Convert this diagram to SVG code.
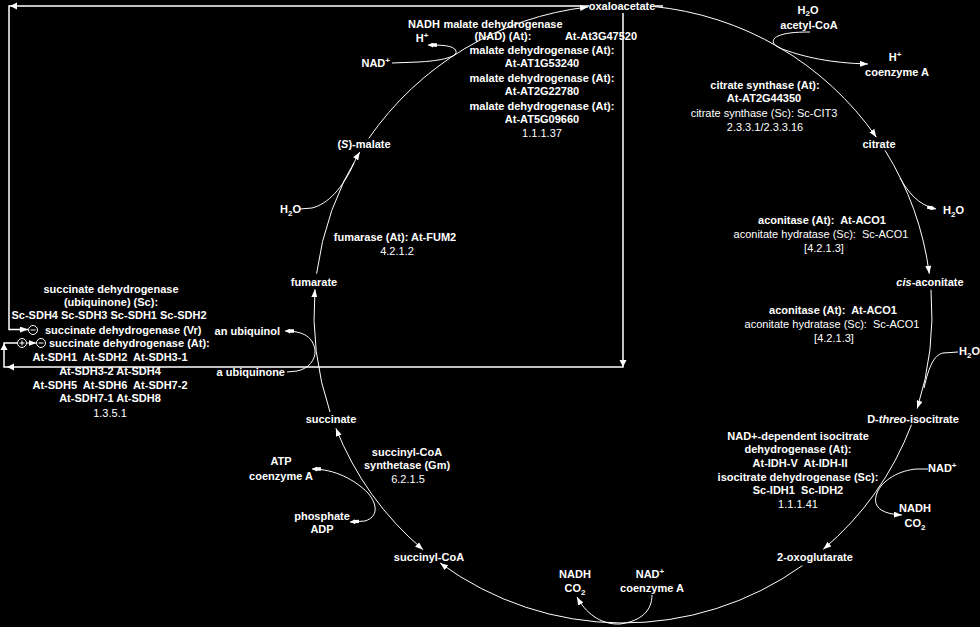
<svg xmlns="http://www.w3.org/2000/svg" width="980" height="627" viewBox="0 0 980 627">
<defs>
<style>
text{font-family:"Liberation Sans",Arial,sans-serif;font-size:11px;fill:#fff}
.b{font-weight:bold}
.r{font-weight:normal}
.m{text-anchor:middle}
.e{text-anchor:end}
.ln{fill:none;stroke:#fff;stroke-width:1}
.rg{fill:none;stroke:#fff;stroke-width:1.5}
.ah{fill:#fff}
.sym{fill:none;stroke:#fff;stroke-width:1}
</style>
<marker id="a" viewBox="0 0 8 6" refX="8" refY="3" markerWidth="8" markerHeight="6" markerUnits="userSpaceOnUse" orient="auto-start-reverse"><path d="M0,0 L8,3 L0,6 z" fill="#fff"/></marker>
<marker id="s" viewBox="0 0 9 5" refX="9" refY="2.5" markerWidth="9" markerHeight="5" markerUnits="userSpaceOnUse" orient="auto-start-reverse"><path d="M0,0.8 L4,0.8 L4,0 L9,2.5 L4,5 L4,4.2 L0,4.2 z" fill="#fff"/></marker>
</defs>
<rect width="980" height="627" fill="#000"/>

<g id="connectors">
<path class="ln" d="M368.7 138.5 A309 309 0 0 1 588 7" marker-end="url(#a)"/>
<path class="ln" d="M652.6 6.4 A309 309 0 0 1 876.4 137.2" marker-end="url(#a)"/>
<path class="ln" d="M885 150.3 A309 309 0 0 1 929.3 273.7" marker-end="url(#a)"/>
<path class="ln" d="M931 289.8 A309 309 0 0 1 917.2 408.5" marker-end="url(#a)"/>
<path class="ln" d="M911.5 424.7 A309 309 0 0 1 823.3 549.3" marker-end="url(#a)"/>
<path class="ln" d="M802.4 565.6 A309 309 0 0 1 440.1 563" marker-end="url(#a)"/>
<path class="ln" d="M423.1 549.7 A309 309 0 0 1 335.9 428.2" marker-start="url(#a)" marker-end="url(#a)"/>
<path class="ln" d="M330 412 A309 309 0 0 1 315 289.2" marker-end="url(#a)"/>
<path class="ln" d="M316.6 273.7 A309 309 0 0 1 359.8 152.1" marker-end="url(#a)"/>
<path class="ln" d="M392 63 L418 62 C440 61 458 57 456 51 C454 45 440 45 428 45" marker-end="url(#s)"/>
<path class="ln" d="M810 32 C795 32 785 33 778 36 C770 40 772 46 785 50 C805 57 830 63 868 64" marker-end="url(#a)"/>
<path class="ln" d="M900 178 C908 192 918 205 936 209" marker-end="url(#s)"/>
<path class="ln" d="M958 352 L943 353 C934 355 929 366 924 388"/>
<path class="ln" d="M928 469 L917 469 C900 470 882 480 877 493 C872 506 880 514 902 515" marker-end="url(#a)"/>
<path class="ln" d="M652 595 C652 610 642 621 620 624 C600 625 585 612 577 597" marker-end="url(#a)"/>
<path class="ln" d="M312 469 C335 469 355 480 368 493 C378 505 378 517 365 521 L350 522" marker-start="url(#s)" marker-end="url(#s)"/>
<path class="ln" d="M287 372 L297 371 C308 369 316 360 315 350 C313 338 305 331 285 331" marker-end="url(#s)"/>
<path class="ln" d="M300 209 L312 208 C328 204 343 188 354 163"/>
<path class="rg" d="M663 6 H9 V329.5 H28" marker-end="url(#a)"/>
<polygon class="ah" points="10,6 17,2.5 17,9.5"/>
<path class="rg" d="M623 6 V367 H4 V343 H17.5"/>
<polygon class="ah" points="623,367 619.5,360 626.5,360"/>
<polygon class="ah" points="7,367 14,363.5 14,370.5"/>
<polygon class="ah" points="4,343.5 0.5,350 7.5,350"/>
<path class="ln" d="M26.5 343 H36.5" marker-end="url(#a)"/>
</g>

<g id="n-oxaloacetate"><rect x="589" y="0" width="66" height="13" fill="#000"/><text class="b m" x="622" y="10">oxaloacetate</text></g>
<g id="n-citrate"><text class="b m" x="879" y="148">citrate</text></g>
<g id="n-cis-aconitate"><text class="b m" x="930" y="286"><tspan font-style="italic">cis</tspan>-aconitate</text></g>
<g id="n-isocitrate"><text class="b m" x="913" y="423">D-<tspan font-style="italic">threo</tspan>-isocitrate</text></g>
<g id="n-2-oxoglutarate"><text class="b m" x="815" y="561">2-oxoglutarate</text></g>
<g id="n-succinyl-CoA"><text class="b m" x="429" y="561">succinyl-CoA</text></g>
<g id="n-succinate"><text class="b m" x="331" y="423">succinate</text></g>
<g id="n-fumarate"><text class="b m" x="314" y="286">fumarate</text></g>
<g id="n-malate"><text class="b m" x="364" y="148">(<tspan font-style="italic">S</tspan>)-malate</text></g>

<g id="n-mdh-side">
<text class="b m" x="424" y="28">NADH</text>
<text class="b m" x="422" y="42">H<tspan font-size="8" dy="-4">+</tspan></text>
<text class="b e" x="390" y="67">NAD<tspan font-size="8" dy="-4">+</tspan></text>
</g>
<g id="n-cs-side">
<text class="b m" x="808" y="14">H<tspan font-size="8" dy="2">2</tspan><tspan dy="-2">O</tspan></text>
<text class="b m" x="809" y="29">acetyl-CoA</text>
<text class="b m" x="895" y="61">H<tspan font-size="8" dy="-4">+</tspan></text>
<text class="b m" x="897" y="76">coenzyme A</text>
</g>
<g id="n-aco-side1"><text class="b" x="943" y="214">H<tspan font-size="8" dy="3">2</tspan><tspan dy="-3">O</tspan></text></g>
<g id="n-aco-side2"><text class="b" x="959" y="355">H<tspan font-size="8" dy="3">2</tspan><tspan dy="-3">O</tspan></text></g>
<g id="n-idh-side">
<text class="b" x="928" y="472">NAD<tspan font-size="8" dy="-4">+</tspan></text>
<text class="b m" x="915" y="512">NADH</text>
<text class="b m" x="915" y="527">CO<tspan font-size="8" dy="3">2</tspan></text>
</g>
<g id="n-ogdh-side">
<text class="b m" x="575" y="578">NADH</text>
<text class="b m" x="575" y="592">CO<tspan font-size="8" dy="3">2</tspan></text>
<text class="b m" x="650" y="578">NAD<tspan font-size="8" dy="-4">+</tspan></text>
<text class="b m" x="652" y="592">coenzyme A</text>
</g>
<g id="n-scs-side">
<text class="b m" x="281" y="465">ATP</text>
<text class="b m" x="281" y="480">coenzyme A</text>
<text class="b m" x="322" y="520">phosphate</text>
<text class="b m" x="322" y="533">ADP</text>
</g>
<g id="n-sdh-side">
<text class="b e" x="280" y="335">an ubiquinol</text>
<text class="b e" x="285" y="376">a ubiquinone</text>
</g>
<g id="n-fum-side"><text class="b" x="280" y="213">H<tspan font-size="8" dy="3">2</tspan><tspan dy="-3">O</tspan></text></g>

<g id="e-mdh">
<text class="b m" x="503" y="28">malate dehydrogenase</text>
<text class="b m" x="503" y="40">(NAD) (At):</text>
<text class="b m" x="601" y="40">At-At3G47520</text>
<text class="b m" x="542" y="54">malate dehydrogenase (At):</text>
<text class="b m" x="542" y="67">At-AT1G53240</text>
<text class="b m" x="542" y="82">malate dehydrogenase (At):</text>
<text class="b m" x="542" y="95">At-AT2G22780</text>
<text class="b m" x="542" y="110">malate dehydrogenase (At):</text>
<text class="b m" x="542" y="123">At-AT5G09660</text>
<text class="r m" x="542" y="137">1.1.1.37</text>
</g>
<g id="e-cs">
<text class="b m" x="765" y="89">citrate synthase (At):</text>
<text class="b m" x="764" y="102">At-AT2G44350</text>
<text class="r m" x="764" y="117">citrate synthase (Sc): Sc-CIT3</text>
<text class="r m" x="765" y="131">2.3.3.1/2.3.3.16</text>
</g>
<g id="e-aco1">
<text class="b m" x="822" y="224">aconitase (At):&#160; At-ACO1</text>
<text class="r m" x="821" y="238">aconitate hydratase (Sc):&#160; Sc-ACO1</text>
<text class="r m" x="824" y="252">[4.2.1.3]</text>
</g>
<g id="e-aco2">
<text class="b m" x="833" y="314">aconitase (At):&#160; At-ACO1</text>
<text class="r m" x="832" y="328">aconitate hydratase (Sc):&#160; Sc-ACO1</text>
<text class="r m" x="834" y="342">[4.2.1.3]</text>
</g>
<g id="e-idh">
<text class="b m" x="798" y="440">NAD+-dependent isocitrate</text>
<text class="b m" x="798" y="453">dehydrogenase (At):</text>
<text class="b m" x="800" y="467">At-IDH-V&#160; At-IDH-II</text>
<text class="b m" x="798" y="481">isocitrate dehydrogenase (Sc):</text>
<text class="b m" x="798" y="494">Sc-IDH1&#160; Sc-IDH2</text>
<text class="r m" x="798" y="508">1.1.1.41</text>
</g>
<g id="e-scs">
<text class="b m" x="407" y="456">succinyl-CoA</text>
<text class="b m" x="407" y="469">synthetase (Gm)</text>
<text class="r m" x="408" y="483">6.2.1.5</text>
</g>
<g id="e-fum">
<text class="b m" x="395" y="241">fumarase (At): At-FUM2</text>
<text class="r m" x="397" y="255">4.2.1.2</text>
</g>
<g id="e-sdh">
<text class="b m" x="111" y="293">succinate dehydrogenase</text>
<text class="b m" x="111" y="306">(ubiquinone) (Sc):</text>
<text class="b m" x="109" y="319">Sc-SDH4 Sc-SDH3 Sc-SDH1 Sc-SDH2</text>
<circle class="sym" cx="33" cy="330" r="4.5"/><line class="sym" x1="30.5" y1="330" x2="35.5" y2="330"/>
<text class="b" x="45" y="334">succinate dehydrogenase (Vr)</text>
<circle class="sym" cx="22" cy="343" r="4.5"/><line class="sym" x1="19.5" y1="343" x2="24.5" y2="343"/><line class="sym" x1="22" y1="340.5" x2="22" y2="345.5"/>
<circle class="sym" cx="41" cy="343" r="4.5"/><line class="sym" x1="38.5" y1="343" x2="43.5" y2="343"/>
<text class="b" x="49" y="347">succinate dehydrogenase (At):</text>
<text class="b m" x="110" y="361">At-SDH1&#160; At-SDH2&#160; At-SDH3-1</text>
<text class="b m" x="110" y="375">At-SDH3-2 At-SDH4</text>
<text class="b m" x="110" y="389">At-SDH5&#160; At-SDH6&#160; At-SDH7-2</text>
<text class="b m" x="110" y="402">At-SDH7-1 At-SDH8</text>
<text class="r m" x="110" y="417">1.3.5.1</text>
</g>
</svg>
